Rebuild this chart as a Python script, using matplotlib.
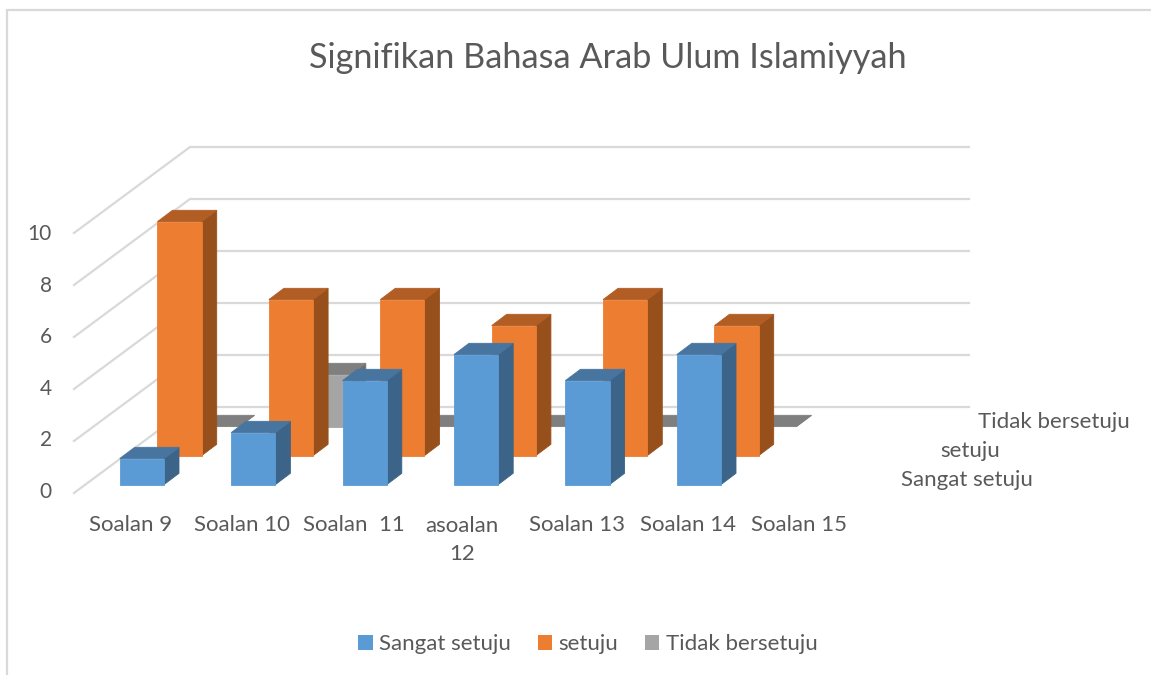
import matplotlib
matplotlib.use("Agg")
import matplotlib.pyplot as plt
from matplotlib.patches import Patch

# data
categories = ['Soalan 9', 'Soalan 10', 'Soalan  11', 'asoalan\n12', 'Soalan 13', 'Soalan 14', 'Soalan 15']
series_names = ['Sangat setuju', 'setuju', 'Tidak bersetuju']
sangat_setuju = [1, 2, 4, 5, 4, 5]
setuju = [9, 6, 6, 5, 6, 5]
tidak_bersetuju = [0, 2, 0, 0, 0, 0]
value_ticks = [0, 2, 4, 6, 8, 10]

plt.rcParams['font.family'] = ['Lato', 'DejaVu Sans']
W, H = 1151, 675
TXT = '#595959'
GRID = '#d9d9d9'

# one x unit = one category, one y unit = one value; pixel scale of the picture
PX = 111.4
PY = 26.0
X0, Y0 = 119.8, 484.6  # pixel of first front bar, value 0

fig = plt.figure(figsize=(W / 100, H / 100), dpi=100)
ax = fig.add_axes([0, 0, 1, 1])
ax.set_xlim(-X0 / PX, (W - X0) / PX)
ax.set_ylim((Y0 - H) / PY, Y0 / PY)
ax.axis('off')

bar_w = 44.2 / PX
dep_x, dep_y = 15.0 / PX, 11.3 / PY       # depth of a bar
step_x, step_y = 37.7 / PX, 29.0 / PY     # distance between series rows
wall_x0, wall_y0 = -45.8 / PX, -8.4 / PY  # front corner of the floor
wall_dx, wall_dy = 116.0 / PX, 86.0 / PY
wall_end = (969.0 - X0) / PX


def px(x, y):
    return (x - X0) / PX, (Y0 - y) / PY


def draw_bar(left, base, value, front, top, side):
    right = left + bar_w
    hi = base + value
    # thin edge in the face colour closes the seams between the faces
    ax.fill([right, right + dep_x, right + dep_x, right],
            [base, base + dep_y, hi + dep_y, hi], color=side, lw=0.6, zorder=3)
    ax.fill([left, right, right + dep_x, left + dep_x],
            [hi, hi, hi + dep_y, hi + dep_y], color=top, lw=0.6, zorder=3)
    if value > 0:
        ax.fill([left, right, right, left], [base, base, hi, hi], color=front, lw=0.6, zorder=3)


# gridlines on the side wall and the back wall
for v in value_ticks:
    ax.plot([wall_x0, wall_x0 + wall_dx, wall_end],
            [wall_y0 + v, wall_y0 + v + wall_dy, wall_y0 + v + wall_dy],
            color=GRID, lw=1.6, solid_joinstyle='miter', zorder=1)

# back row first so that the front rows cover it
rows = [(tidak_bersetuju, 2, '#a5a5a5', '#7f7f7f', '#6e6e6e'),
        (setuju, 1, '#ed7d31', '#b25d23', '#97501c'),
        (sangat_setuju, 0, '#5b9bd5', '#4775a0', '#3b6488')]
for values, r, front, top, side in rows:
    for i, v in enumerate(values):
        draw_bar(i + r * step_x, r * step_y, v, front, top, side)

# value axis labels
for v in value_ticks:
    ax.text((52 - X0) / PX, (Y0 - 492) / PY + v * 25.8 / PY, str(v), color=TXT,
            fontsize=15, ha='right', va='center')

# category labels, the two line one is centred lower down
for i, c in enumerate(categories):
    if '\n' in c:
        ax.text(i + (128 - X0) / PX, px(0, 540)[1], c, color=TXT, fontsize=16,
                ha='center', va='center', linespacing=1.55)
    else:
        ax.text(i + (131 - X0) / PX, px(0, 525)[1], c, color=TXT, fontsize=16,
                ha='center', va='center')

# series names of the depth axis
for name, (xp, yp) in zip(series_names, [(901, 480), (940, 451), (978, 422)]):
    lx, ly = px(xp, yp)
    ax.text(lx, ly, name, color=TXT, fontsize=16, ha='left', va='center')

ax.text(*px(607.5, 58), 'Signifikan Bahasa Arab Ulum Islamiyyah', color=TXT, fontsize=24.7, ha='center', va='center')

# outer frame of the chart, only top and left are in the picture
ax.plot(*zip(px(1151, 10), px(6.5, 10), px(6.5, 675)), color=GRID, lw=1.6, solid_joinstyle='miter')

handles = [Patch(facecolor=c, linewidth=0) for c in ['#5b9bd5', '#ed7d31', '#a5a5a5']]
ax.legend(handles, series_names, loc='center', bbox_to_anchor=(588 / W, 1 - 644 / H), ncol=3, frameon=False,
          fontsize=16, labelcolor=TXT, handlelength=0.64, handleheight=0.64, handletextpad=0.3,
          columnspacing=1.2, borderpad=0)

fig.savefig('out.png', dpi=100)
